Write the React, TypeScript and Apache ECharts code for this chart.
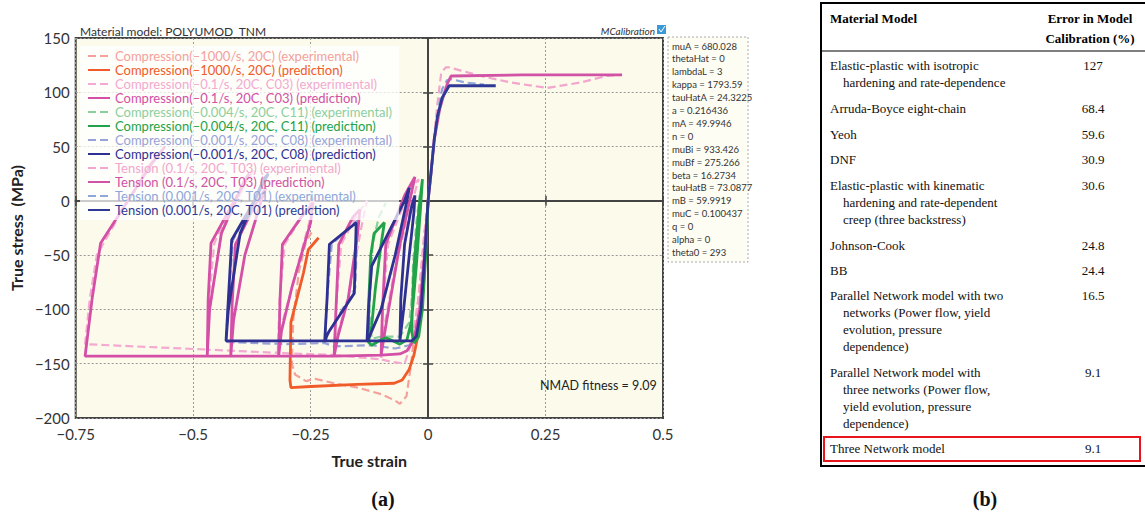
import React, { useEffect, useRef } from "react";
import * as echarts from "echarts";

// ---------- chart (a) data: [true strain, true stress MPa] ----------
const comp1000Exp = [[0,0],[-0.008,-30],[-0.016,-70],[-0.026,-110],[-0.036,-150],[-0.046,-180],[-0.06,-187],[-0.07,-184],[-0.1,-178],[-0.15,-172],[-0.2,-168],[-0.24,-164],[-0.26,-166],[-0.283,-160],[-0.29,-150],[-0.287,-110],[-0.275,-65],[-0.26,-38],[-0.248,-29]];
const comp1000Pred = [[0,0],[-0.005,-40],[-0.01,-80],[-0.014,-94],[-0.022,-125],[-0.03,-142],[-0.04,-155],[-0.055,-165],[-0.072,-168],[-0.15,-169],[-0.25,-171],[-0.292,-172],[-0.294,-165],[-0.292,-112],[-0.265,-66],[-0.255,-45],[-0.233,-34]];
const comp01Exp = [[0,0],[-0.01,-40],[-0.02,-90],[-0.035,-130],[-0.05,-150],[-0.08,-148],[-0.1,-146],[-0.097,-100],[-0.085,-40],[-0.04,10],[-0.02,20],[-0.03,5],[-0.07,-60],[-0.095,-120],[-0.1,-146],[-0.2,-142],[-0.196,-100],[-0.185,-40],[-0.15,-12],[-0.13,0],[-0.14,-20],[-0.17,-90],[-0.195,-125],[-0.2,-142],[-0.32,-140],[-0.316,-90],[-0.305,-40],[-0.26,-8],[-0.24,5],[-0.25,-15],[-0.29,-80],[-0.315,-120],[-0.32,-140],[-0.47,-137],[-0.466,-90],[-0.455,-39],[-0.42,-5],[-0.37,28],[-0.385,20],[-0.44,-30],[-0.465,-100],[-0.47,-137],[-0.73,-132],[-0.72,-90],[-0.705,-50],[-0.6,30],[-0.57,45]];
const comp01Pred = [[0,0],[-0.008,-50],[-0.018,-100],[-0.03,-128],[-0.045,-138],[-0.06,-141],[-0.1,-142],[-0.097,-100],[-0.09,-40],[-0.05,5],[-0.028,22],[-0.034,10],[-0.06,-40],[-0.088,-110],[-0.1,-142],[-0.2,-143],[-0.196,-100],[-0.19,-40],[-0.16,-15],[-0.145,-8],[-0.15,-30],[-0.17,-90],[-0.192,-125],[-0.2,-143],[-0.318,-143],[-0.315,-90],[-0.31,-40],[-0.27,-15],[-0.245,-2],[-0.25,-20],[-0.29,-80],[-0.312,-120],[-0.318,-143],[-0.42,-143],[-0.417,-95],[-0.41,-40],[-0.37,-5],[-0.345,12],[-0.355,0],[-0.39,-50],[-0.414,-110],[-0.42,-143],[-0.47,-143],[-0.468,-90],[-0.462,-39],[-0.424,-9],[-0.38,25],[-0.39,20],[-0.44,-30],[-0.465,-100],[-0.47,-143],[-0.73,-143],[-0.715,-90],[-0.697,-39],[-0.587,35],[-0.56,50]];
const comp0004Exp = [[0,0],[-0.005,-40],[-0.012,-90],[-0.02,-118],[-0.03,-126],[-0.036,-110],[-0.032,-60],[-0.025,-20],[-0.018,5],[-0.022,-20],[-0.03,-70],[-0.04,-112],[-0.06,-125],[-0.1,-125],[-0.12,-127],[-0.125,-100],[-0.118,-40],[-0.105,-15],[-0.09,-2]];
const comp0004Pred = [[0,0],[-0.005,-50],[-0.012,-100],[-0.02,-125],[-0.03,-131],[-0.035,-120],[-0.03,-60],[-0.02,-10],[-0.012,20],[-0.015,0],[-0.025,-60],[-0.035,-110],[-0.045,-128],[-0.06,-132],[-0.08,-128],[-0.09,-126],[-0.1,-128],[-0.12,-133],[-0.127,-130],[-0.126,-90],[-0.122,-50],[-0.115,-30],[-0.093,-20],[-0.1,-40],[-0.112,-80],[-0.12,-115],[-0.127,-130]];
const comp0001Exp = [[0,0],[-0.007,-40],[-0.015,-90],[-0.025,-122],[-0.04,-133],[-0.07,-136],[-0.12,-133],[-0.2,-134],[-0.22,-131],[-0.215,-90],[-0.205,-40],[-0.15,-18],[-0.155,-80],[-0.21,-120],[-0.22,-131],[-0.3,-132],[-0.43,-130],[-0.425,-90],[-0.415,-36],[-0.365,5],[-0.34,25]];
const comp0001Pred = [[0,0],[-0.007,-50],[-0.015,-100],[-0.025,-125],[-0.035,-129],[-0.06,-129],[-0.058,-90],[-0.05,-40],[-0.035,-5],[-0.028,5],[-0.03,-10],[-0.04,-50],[-0.052,-100],[-0.06,-129],[-0.13,-129],[-0.127,-100],[-0.12,-60],[-0.085,-30],[-0.05,0],[-0.04,12],[-0.045,0],[-0.07,-50],[-0.1,-100],[-0.125,-125],[-0.13,-129],[-0.22,-129],[-0.215,-90],[-0.21,-40],[-0.153,-20],[-0.157,-85],[-0.212,-121],[-0.22,-129],[-0.43,-129],[-0.425,-90],[-0.418,-36],[-0.37,0],[-0.34,25],[-0.35,20],[-0.4,-30],[-0.425,-100],[-0.43,-129]];
const ten01Exp = [[0,0],[0.006,25],[0.012,55],[0.02,90],[0.028,118],[0.038,123],[0.045,123],[0.07,120],[0.112,115],[0.176,109],[0.254,104],[0.324,109],[0.38,115],[0.41,116]];
const ten01Pred = [[0,0],[0.006,25],[0.013,56],[0.025,85],[0.035,100],[0.042,109],[0.049,115],[0.2,116],[0.3,116],[0.413,116]];
const ten0001Exp = [[0,0],[0.007,25],[0.014,58],[0.022,85],[0.03,103],[0.04,111],[0.05,112],[0.08,109],[0.119,107]];
const ten0001Pred = [[0,0],[0.006,25],[0.013,56],[0.02,78],[0.03,95],[0.045,106],[0.08,106],[0.144,106]];

const seriesNames = [
  "Compression(–1000/s, 20C) (experimental)",
  "Compression(–1000/s, 20C) (prediction)",
  "Compression(–0.1/s, 20C, C03) (experimental)",
  "Compression(–0.1/s, 20C, C03) (prediction)",
  "Compression(–0.004/s, 20C, C11) (experimental)",
  "Compression(–0.004/s, 20C, C11) (prediction)",
  "Compression(–0.001/s, 20C, C08) (experimental)",
  "Compression(–0.001/s, 20C, C08) (prediction)",
  "Tension (0.1/s, 20C, T03) (experimental)",
  "Tension (0.1/s, 20C, T03) (prediction)",
  "Tension (0.001/s, 20C, T01) (experimental)",
  "Tension (0.001/s, 20C, T01) (prediction)",
];
const seriesData = [comp1000Exp, comp1000Pred, comp01Exp, comp01Pred, comp0004Exp, comp0004Pred, comp0001Exp, comp0001Pred, ten01Exp, ten01Pred, ten0001Exp, ten0001Pred];
const seriesColors = ["#f4a19c", "#f15a29", "#f3a9d0", "#d44fa6", "#8ccf9f", "#22a34a", "#97a3d8", "#2e3192", "#f3a6cc", "#d053a5", "#8ea6da", "#2e3a96"];

const xTickMin = -0.75, xTickMax = 0.5, xTickStep = 0.25;
const yTickMin = -200, yTickMax = 150, yTickStep = 50;

const paramNames = ["muA", "thetaHat", "lambdaL", "kappa", "tauHatA", "a", "mA", "n", "muBi", "muBf", "beta", "tauHatB", "mB", "muC", "q", "alpha", "theta0"];
const paramValues = ["680.028", "0", "3", "1793.59", "24.3225", "0.216436", "49.9946", "0", "933.426", "275.266", "16.2734", "73.0877", "59.9919", "0.100437", "0", "0", "293"];

// ---------- table (b) data ----------
const tableModels = [
  ["Elastic-plastic with isotropic", "hardening and rate-dependence"],
  ["Arruda-Boyce eight-chain"],
  ["Yeoh"],
  ["DNF"],
  ["Elastic-plastic with kinematic", "hardening and rate-dependent", "creep (three backstress)"],
  ["Johnson-Cook"],
  ["BB"],
  ["Parallel Network model with two", "networks (Power flow, yield", "evolution, pressure", "dependence)"],
  ["Parallel Network model with", "three networks (Power flow,", "yield evolution, pressure", "dependence)"],
  ["Three Network model"],
];
const tableErrors = ["127", "68.4", "59.6", "30.9", "30.6", "24.8", "24.4", "16.5", "9.1", "9.1"];

const SANS = "Lato";
const SERIF = "Liberation Serif";

function txt(x: number, y: number, text: string, o: any = {}) {
  return {
    type: "text",
    x, y, silent: true,
    style: {
      text,
      fill: o.fill || "#222",
      fontSize: o.fontSize || 13,
      fontFamily: o.fontFamily || SANS,
      fontWeight: o.fontWeight || "normal",
      fontStyle: o.fontStyle || "normal",
      textAlign: o.align || "left",
      align: o.align || "left",
      textVerticalAlign: "middle",
      verticalAlign: "middle",
    },
  };
}
function ln(x1: number, y1: number, x2: number, y2: number, w: number, color = "#000") {
  return { type: "line", silent: true, shape: { x1, y1, x2, y2 }, style: { stroke: color, lineWidth: w } };
}

export default function App() {
  const ref = useRef<HTMLDivElement>(null);
  useEffect(() => {
    const chart = echarts.init(ref.current!, undefined, { renderer: "svg" });
    const fmt = (v: number) => String(v).replace("-", "−");

    const series = seriesNames.map((name, i) => {
      const exp = name.includes("experimental");
      return {
        name,
        type: "line",
        data: seriesData[i],
        showSymbol: false,
        symbol: "none",
        silent: true,
        z: exp ? 2 : 3,
        itemStyle: { color: seriesColors[i] },
        lineStyle: { color: seriesColors[i], width: exp ? 2.2 : 2.8, type: exp ? [8, 4] : "solid" },
      };
    });

    const graphic: any[] = [];
    graphic.push(txt(80, 31, "Material model: POLYUMOD_TNM", { fontSize: 12, fill: "#333" }));
    graphic.push(txt(655, 31, "MCalibration", { fontSize: 10, fill: "#333", fontStyle: "italic", align: "right" }));
    graphic.push({ type: "rect", silent: true, shape: { x: 657, y: 25, width: 9, height: 9 }, style: { fill: "#3a9ad9" } });
    graphic.push({ type: "polyline", silent: true, shape: { points: [[659, 29], [661, 32], [665, 26]] }, style: { stroke: "#fff", lineWidth: 1, fill: null } });
    graphic.push({ type: "rect", silent: true, shape: { x: 668, y: 37, width: 80, height: 225 }, style: { fill: "#fdfdf3", stroke: "#aaa", lineWidth: 1, lineDash: [2, 2] } });
    paramNames.forEach((p, i) => {
      graphic.push(txt(672, 46 + i * 12.9, `${p} = ${paramValues[i]}`, { fontSize: 9.5, fill: "#333" }));
    });
    graphic.push(txt(540, 385, "NMAD fitness = 9.09", { fontSize: 12.5, fill: "#222" }));
    graphic.push(txt(383, 499, "(a)", { fontSize: 20, fontFamily: SERIF, fontWeight: "bold", align: "center", fill: "#111" }));
    graphic.push(txt(985, 499, "(b)", { fontSize: 20, fontFamily: SERIF, fontWeight: "bold", align: "center", fill: "#111" }));

    // table (b)
    graphic.push(ln(820, 3, 1145, 3, 2));
    graphic.push(ln(821, 2, 821, 467, 2));
    graphic.push(ln(820, 51, 1145, 51, 1));
    graphic.push(ln(820, 466, 1145, 466, 2));
    graphic.push(txt(830, 18, "Material Model", { fontFamily: SERIF, fontWeight: "bold", fontSize: 13, fill: "#000" }));
    graphic.push(txt(1090, 18, "Error in Model", { fontFamily: SERIF, fontWeight: "bold", fontSize: 13, fill: "#000", align: "center" }));
    graphic.push(txt(1090, 38, "Calibration (%)", { fontFamily: SERIF, fontWeight: "bold", fontSize: 13, fill: "#000", align: "center" }));
    const rowTops = [65, 108, 134, 159, 185, 245, 270, 295, 372, 448];
    tableModels.forEach((lines, r) => {
      lines.forEach((l, k) => {
        graphic.push(txt(k === 0 ? 830 : 843, rowTops[r] + k * 17, l, { fontFamily: SERIF, fontSize: 13, fill: "#111" }));
      });
      graphic.push(txt(1093, rowTops[r], tableErrors[r], { fontFamily: SERIF, fontSize: 13, fill: "#111", align: "center" }));
    });
    graphic.push({ type: "rect", silent: true, shape: { x: 824, y: 437, width: 316, height: 24 }, style: { fill: null, stroke: "#e8141b", lineWidth: 2 } });

    const axisCommon = {
      type: "value",
      axisLine: { show: true, lineStyle: { color: "#444", width: 2 } },
      axisTick: { show: true, inside: true, length: 5, lineStyle: { color: "#444", width: 1.5 } },
    };

    chart.setOption({
      animation: false,
      backgroundColor: "#ffffff",
      grid: { left: 72, top: 38, width: 591, height: 380, show: true, backgroundColor: "#fcfbeb", borderColor: "#444", borderWidth: 2 },
      legend: {
        orient: "vertical",
        left: 80,
        top: 46,
        padding: [3, 7, 3, 7],
        itemGap: 0,
        itemWidth: 22,
        itemHeight: 10,
        backgroundColor: "rgba(255,255,255,0.72)",
        selectedMode: false,
        itemStyle: { opacity: 0, borderWidth: 0 },
        data: seriesNames.map((n, i) => ({ name: n, textStyle: { color: seriesColors[i] } })),
        textStyle: { fontFamily: SANS, fontSize: 13, lineHeight: 14 },
      },
      xAxis: [
        {
          ...axisCommon,
          min: xTickMin, max: xTickMax, interval: xTickStep,
          name: "True strain", nameLocation: "middle", nameGap: 34,
          nameTextStyle: { fontFamily: SANS, fontWeight: "bold", fontSize: 16, color: "#222" },
          axisLabel: { fontFamily: SANS, fontSize: 15, color: "#333", margin: 8, formatter: fmt },
          splitLine: { show: true, lineStyle: { color: "#9a9a9a", type: [2, 2], width: 1 } },
        },
        { ...axisCommon, position: "top", min: xTickMin, max: xTickMax, interval: xTickStep, axisLabel: { show: false }, splitLine: { show: false } },
      ],
      yAxis: [
        {
          ...axisCommon,
          min: yTickMin, max: yTickMax, interval: yTickStep,
          name: "True stress  (MPa)", nameLocation: "middle", nameGap: 45, nameRotate: 90,
          nameTextStyle: { fontFamily: SANS, fontWeight: "bold", fontSize: 16, color: "#222" },
          axisLabel: { fontFamily: SANS, fontSize: 15, color: "#333", margin: 6, formatter: fmt },
          splitLine: { show: true, lineStyle: { color: "#9a9a9a", type: [2, 2], width: 1 } },
        },
        { ...axisCommon, position: "right", min: yTickMin, max: yTickMax, interval: yTickStep, axisLabel: { show: false }, splitLine: { show: false } },
      ],
      series,
      graphic,
    });
    return () => chart.dispose();
  }, []);
  return <div ref={ref} style={{ position: "absolute", left: 0, top: 0, width: 1145, height: 517, background: "#fff" }} />;
}
